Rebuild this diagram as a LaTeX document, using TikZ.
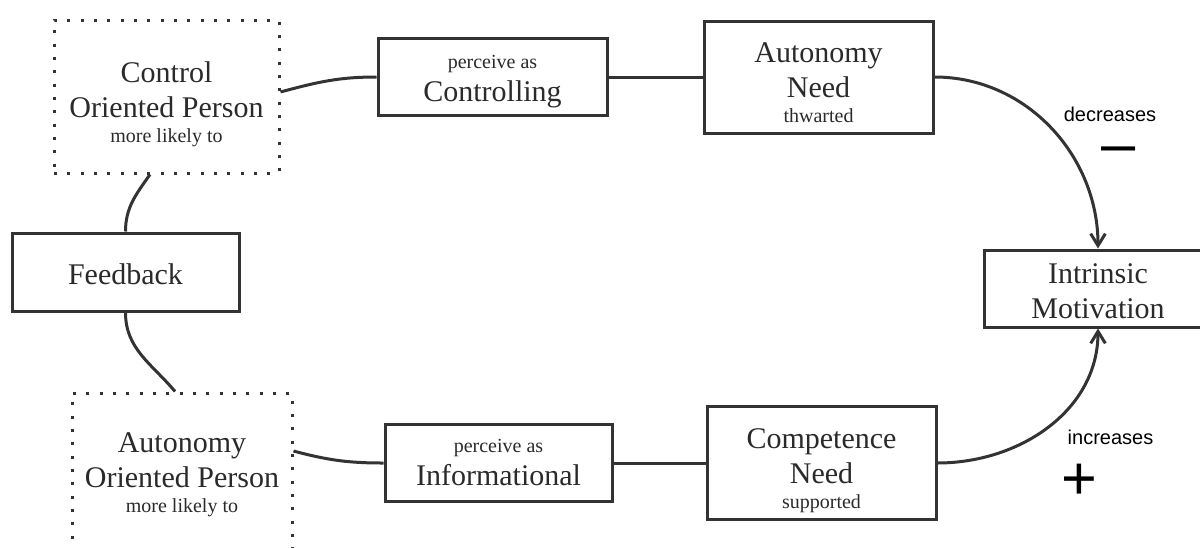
\documentclass[tikz,border=0pt]{standalone}
\usepackage{fontspec}
\setmainfont{Liberation Serif}
\newfontfamily\labelfont{Liberation Sans}
\usetikzlibrary{arrows.meta}
\definecolor{ink}{HTML}{333333}
\definecolor{txt}{HTML}{2A2A2A}
\newcommand{\bigtext}{\fontsize{22.5}{26.25}\selectfont}
\newcommand{\smalltext}{\fontsize{15}{18}\selectfont}

\begin{document}
\begin{tikzpicture}[x=0.75pt,y=0.75pt,
  boxline/.style={draw=ink,line width=2.25pt,inner sep=0pt},
  solidbox/.style={boxline},
  dotbox/.style={boxline,dash pattern=on 2.25pt off 7.75pt},
  sz/.style 2 args={minimum width=#1*0.75pt,minimum height=#2*0.75pt},
  boxtext/.style={anchor=base,align=center,text=txt,font=\bigtext,inner sep=0pt},
  link/.style={draw=ink,line width=2.25pt},
  effect/.style={link,-{Straight Barb[length=9pt,width=11pt]}},
  effectlabel/.style={anchor=base,inner sep=0pt,text=black,font=\labelfont\fontsize{15}{18}\selectfont},
  signlabel/.style={anchor=base,inner sep=0pt,text=black,font=\labelfont\fontsize{46}{46}\selectfont}]
\useasboundingbox (0,0) rectangle (1200,-547);
\clip (0,0) rectangle (1200,-547);

% person types (dotted frames)
\node[dotbox,sz={225}{153}] (cop) at (166.5,-96.5) {};
\node[dotbox,sz={220}{164}] (aop) at (182,-475) {};

% solid boxes
\node[solidbox,sz={227}{78}]  (fb)   at (125.5,-272) {};
\node[solidbox,sz={229}{77}]  (ctrl) at (492.5,-77) {};
\node[solidbox,sz={229}{112}] (an)   at (818.5,-77) {};
\node[solidbox,sz={227}{77}]  (info) at (498.5,-463) {};
\node[solidbox,sz={229}{113}] (cn)   at (821.5,-463) {};
\node[solidbox,sz={228}{77}]  (im)   at (1098,-288.5) {};

% box texts (placed by the baseline of their last line)
\node[boxtext] (copt)  at (166.5,-142) {Control\\Oriented Person\\[-7.5pt]{\smalltext more likely to}};
\node[boxtext] (aopt)  at (182,-512)   {Autonomy\\Oriented Person\\[-7.5pt]{\smalltext more likely to}};
\node[boxtext] (fbt)   at (125.5,-284) {Feedback};
\node[boxtext] (ctrlt) at (492.5,-101) {{\smalltext perceive as}\\[-1.5pt]Controlling};
\node[boxtext] (infot) at (498.5,-485) {{\smalltext perceive as}\\[-1.5pt]Informational};
\node[boxtext] (ant)   at (818.5,-122) {Autonomy\\Need\\[-7.5pt]{\smalltext thwarted}};
\node[boxtext] (cnt)   at (821.5,-508) {Competence\\Need\\[-7.5pt]{\smalltext supported}};
\node[boxtext] (imt)   at (1098,-318)  {Intrinsic\\Motivation};

% connectors
\draw[link] ([yshift=3.4pt]cop.east) to[out=15,in=180] (ctrl.west);
\draw[link] (ctrl.east) -- (an.west);
\draw[effect] (an.east) to[out=0,in=90] (im.north);
\draw[link] ([xshift=-12.4pt]cop.south) to[out=235,in=90] (fb.north);
\draw[link] (fb.south) to[out=-90,in=130] ([xshift=-5.2pt]aop.north);
\draw[link] ([yshift=18pt]aop.east) to[out=-15,in=180] (info.west);
\draw[link] (info.east) -- (cn.west);
\draw[effect] (cn.east) to[out=0,in=-90] (im.south);

% effect labels
\node[effectlabel] (dec)   at (1110,-121)   {decreases};
\node[signlabel]   (minus) at (1119,-164.5) {–};
\node[effectlabel] (inc)   at (1110.5,-444) {increases};
\node[signlabel]   (plus)  at (1079,-499)   {+};
\end{tikzpicture}
\end{document}
